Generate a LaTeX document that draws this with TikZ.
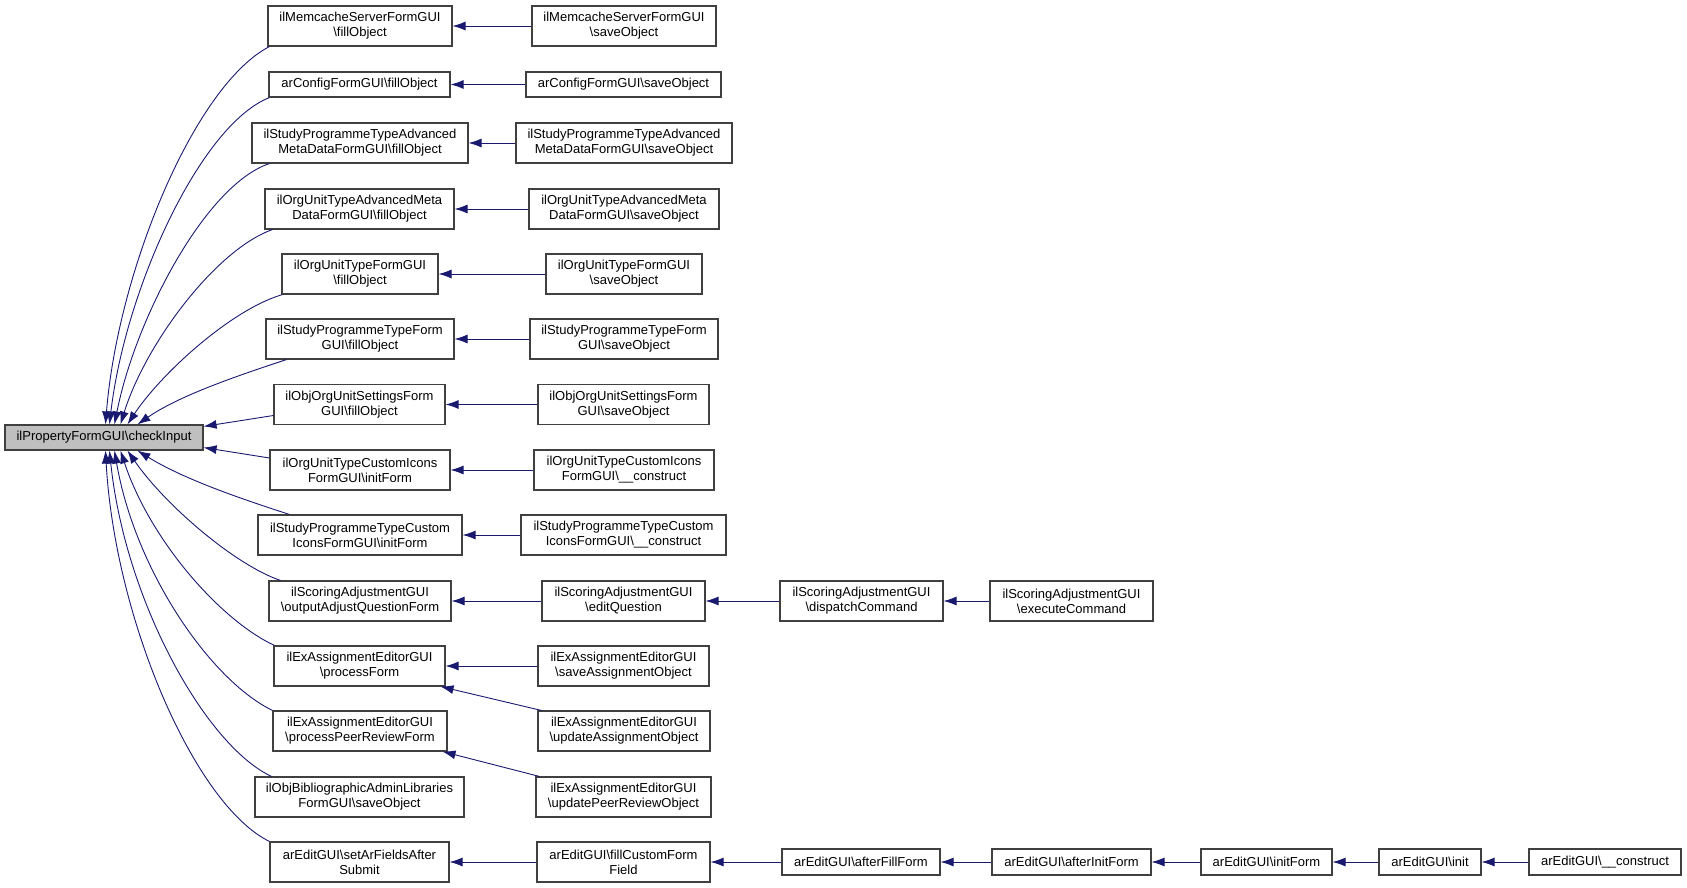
\documentclass[tikz,border=0pt]{standalone}
\usepackage{fontspec}
\setmainfont{Liberation Sans}
\usetikzlibrary{arrows.meta}
\definecolor{edgecol}{HTML}{191970}
\definecolor{boxcol}{HTML}{404040}
\definecolor{grayfill}{HTML}{BFBFBF}
\newcommand{\bs}{\textbackslash}
\begin{document}
\begin{tikzpicture}[x=1pt,y=-1pt,
  box/.style={draw=boxcol, line width=1.1pt, fill=white, inner sep=0pt, align=center,
    font=\fontsize{13}{15}\selectfont, minimum height=40pt},
  sbox/.style={box, minimum height=25pt},
  edge/.style={draw=edgecol, line width=0.9pt, -{Latex[length=13pt,width=9pt]}, fill=none}]
\useasboundingbox (0,0) rectangle (1687,888);
% main node
\node[sbox, fill=grayfill, minimum width=198pt] (ci) at (104,437.5) {ilPropertyFormGUI\bs checkInput};
% column A
\node[box, minimum width=184pt] (a1) at (360,26) {ilMemcacheServerFormGUI\\\bs fillObject};
\node[sbox, minimum width=181pt] (a2) at (359.5,84.5) {arConfigFormGUI\bs fillObject};
\node[box, minimum width=216pt] (a3) at (360,143) {ilStudyProgrammeTypeAdvanced\\MetaDataFormGUI\bs fillObject};
\node[box, minimum width=189pt] (a4) at (359.5,209) {ilOrgUnitTypeAdvancedMeta\\DataFormGUI\bs fillObject};
\node[box, minimum width=156pt] (a5) at (360,274) {ilOrgUnitTypeFormGUI\\\bs fillObject};
\node[box, minimum width=188pt] (a6) at (360,339) {ilStudyProgrammeTypeForm\\GUI\bs fillObject};
\node[box, minimum width=171pt] (a7) at (359.5,404.5) {ilObjOrgUnitSettingsForm\\GUI\bs fillObject};
\node[box, minimum width=180pt] (a8) at (360,470) {ilOrgUnitTypeCustomIcons\\FormGUI\bs initForm};
\node[box, minimum width=204pt] (a9) at (360,535) {ilStudyProgrammeTypeCustom\\IconsFormGUI\bs initForm};
\node[box, minimum width=182pt] (a10) at (360,601) {ilScoringAdjustmentGUI\\\bs outputAdjustQuestionForm};
\node[box, minimum width=171pt] (a11) at (359.5,666) {ilExAssignmentEditorGUI\\\bs processForm};
\node[box, minimum width=174pt] (a12) at (360,731) {ilExAssignmentEditorGUI\\\bs processPeerReviewForm};
\node[box, minimum width=209pt] (a13) at (359.5,797) {ilObjBibliographicAdminLibraries\\FormGUI\bs saveObject};
\node[box, minimum width=179pt] (a14) at (359.5,862) {arEditGUI\bs setArFieldsAfter\\Submit};
% column B
\node[box, minimum width=184pt] (b1) at (624,26) {ilMemcacheServerFormGUI\\\bs saveObject};
\node[sbox, minimum width=195pt] (b2) at (623.5,84.5) {arConfigFormGUI\bs saveObject};
\node[box, minimum width=216pt] (b3) at (624,143) {ilStudyProgrammeTypeAdvanced\\MetaDataFormGUI\bs saveObject};
\node[box, minimum width=190pt] (b4) at (624,209) {ilOrgUnitTypeAdvancedMeta\\DataFormGUI\bs saveObject};
\node[box, minimum width=156pt] (b5) at (624,274) {ilOrgUnitTypeFormGUI\\\bs saveObject};
\node[box, minimum width=188pt] (b6) at (624,339) {ilStudyProgrammeTypeForm\\GUI\bs saveObject};
\node[box, minimum width=171pt] (b7) at (623.5,404.5) {ilObjOrgUnitSettingsForm\\GUI\bs saveObject};
\node[box, minimum width=180pt] (b8) at (624,470) {ilOrgUnitTypeCustomIcons\\FormGUI\bs \_\_construct};
\node[box, minimum width=205pt] (b9) at (623.5,535) {ilStudyProgrammeTypeCustom\\IconsFormGUI\bs \_\_construct};
\node[box, minimum width=163pt] (b10) at (623.5,601) {ilScoringAdjustmentGUI\\\bs editQuestion};
\node[box, minimum width=171pt] (b11) at (623.5,666) {ilExAssignmentEditorGUI\\\bs saveAssignmentObject};
\node[box, minimum width=172pt] (b12) at (624,731) {ilExAssignmentEditorGUI\\\bs updateAssignmentObject};
\node[box, minimum width=175pt] (b13) at (623.5,797) {ilExAssignmentEditorGUI\\\bs updatePeerReviewObject};
\node[box, minimum width=173pt] (b14) at (623.5,862) {arEditGUI\bs fillCustomForm\\Field};
% further columns
\node[box, minimum width=163pt] (c10) at (861.5,601) {ilScoringAdjustmentGUI\\\bs dispatchCommand};
\node[box, minimum width=163pt] (d10) at (1071.5,601) {ilScoringAdjustmentGUI\\\bs executeCommand};
\node[sbox, minimum width=158pt, minimum height=26pt] (c14) at (861,862) {arEditGUI\bs afterFillForm};
\node[sbox, minimum width=159pt, minimum height=26pt] (d14) at (1071.5,862) {arEditGUI\bs afterInitForm};
\node[sbox, minimum width=131pt, minimum height=26pt] (e14) at (1266.5,862) {arEditGUI\bs initForm};
\node[sbox, minimum width=102pt, minimum height=26pt] (f14) at (1430,862) {arEditGUI\bs init};
\node[sbox, minimum width=152pt, minimum height=26pt] (g14) at (1605,862) {arEditGUI\bs \_\_construct};
% curved edges into checkInput (top)
\draw[edge] ([xshift=2pt]a1.south west) .. controls (195,85) and (118,270) .. ([xshift=101pt]ci.north west);
\draw[edge] ([xshift=1pt]a2.south west) .. controls (200,125) and (125,290) .. ([xshift=105pt]ci.north west);
\draw[edge] ([xshift=18pt]a3.south west) .. controls (205,185) and (135,320) .. ([xshift=110pt]ci.north west);
\draw[edge] ([xshift=8pt]a4.south west) .. controls (215,250) and (145,345) .. ([xshift=116pt]ci.north west);
\draw[edge] ([xshift=1pt]a5.south west) .. controls (230,310) and (160,375) .. ([xshift=123pt]ci.north west);
\draw[edge] ([xshift=21pt]a6.south west) .. controls (240,375) and (180,395) .. ([xshift=133pt]ci.north west);
\draw[edge] ([yshift=-11pt]a7.west) -- ([yshift=-2pt]ci.north east);
\draw[edge] ([yshift=12pt]a8.west) -- ([yshift=3pt]ci.south east);
% curved edges into checkInput (bottom)
\draw[edge] ([xshift=32pt]a9.north west) .. controls (245,500) and (185,480) .. ([xshift=133pt]ci.south west);
\draw[edge] ([xshift=12pt]a10.north west) .. controls (235,565) and (165,505) .. ([xshift=123pt]ci.south west);
\draw[edge] ([xshift=1pt]a11.north west) .. controls (220,620) and (150,540) .. ([xshift=116pt]ci.south west);
\draw[edge] (a12.north west) .. controls (210,680) and (135,570) .. ([xshift=110pt]ci.south west);
\draw[edge] ([xshift=17pt]a13.north west) .. controls (205,745) and (125,600) .. ([xshift=105pt]ci.south west);
\draw[edge] (a14.north west) .. controls (195,805) and (115,620) .. ([xshift=101pt]ci.south west);
% horizontal edges
\foreach \i in {1,...,11,14} {\draw[edge] (b\i.west) -- (a\i.east);}
\draw[edge] ([xshift=4pt]b12.north west) -- ([xshift=-5pt]a11.south east);
\draw[edge] ([xshift=4pt]b13.north west) -- ([xshift=-5pt]a12.south east);
\draw[edge] (c10.west) -- (b10.east);
\draw[edge] (d10.west) -- (c10.east);
\draw[edge] (c14.west) -- (b14.east);
\draw[edge] (d14.west) -- (c14.east);
\draw[edge] (e14.west) -- (d14.east);
\draw[edge] (f14.west) -- (e14.east);
\draw[edge] (g14.west) -- (f14.east);
\end{tikzpicture}
\end{document}
